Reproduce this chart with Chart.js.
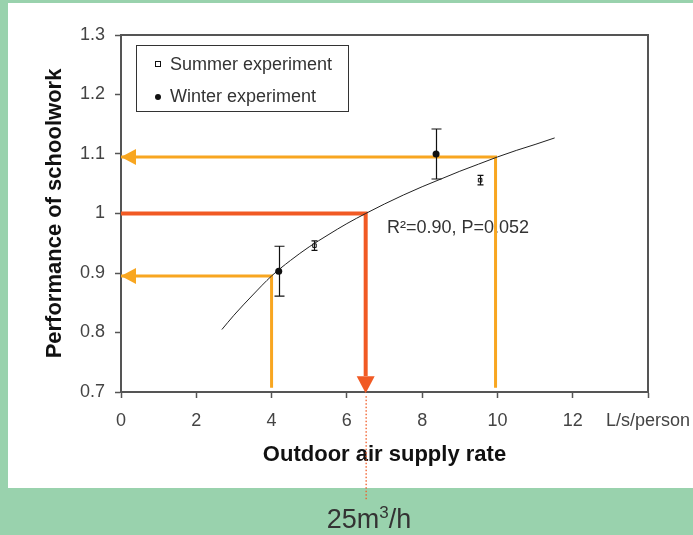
<!DOCTYPE html>
<html lang="en">
<head>
<meta charset="UTF-8">
<title>Performance of schoolwork vs outdoor air supply rate</title>
<script src="https://cdn.jsdelivr.net/npm/chart.js"></script>
<style>
  body { margin: 0; background: #99d2ad; overflow: hidden; }
  canvas { display: block; }
</style>
</head>
<body>
<canvas id="schoolChart" width="693" height="535"></canvas>
<script>
// fitted curve
const fitX = [2.68, 3.0, 3.5, 4.0, 4.5, 5.0, 5.5, 6.0, 6.5, 7.0, 7.5, 8.0, 8.5, 9.0, 9.5, 10.0, 10.5, 11.0, 11.52];
const fitY = [0.805, 0.829, 0.863, 0.895, 0.921, 0.944, 0.964, 0.983, 1.000, 1.016, 1.031, 1.045, 1.058, 1.071, 1.083, 1.095, 1.106, 1.116, 1.127];

// experiments (mean +/- error)
const summerX = [5.14, 9.54];
const summerY = [0.946, 1.056];
const summerErr = [0.008, 0.008];
const winterX = [4.19, 8.37];
const winterY = [0.903, 1.100];
const winterErr = [0.042, 0.042];

// reading lines
const lowX = [4, 4, 0];
const lowY = [0.707, 0.895, 0.895];
const highX = [9.95, 9.95, 0];
const highY = [0.707, 1.095, 1.095];
const redX = [0, 6.5, 6.5];
const redY = [1.0, 1.0, 0.727];
const redTip = 0.698;

const xTickMax = 14;
const xUnitLabel = 'L/s/person';
const summerLabel = 'Summer experiment';
const winterLabel = 'Winter experiment';
const fitLabel = 'R\u00B2=0.90, P=0.052';
const flowParts = ['25m', '3', '/h'];

const FONT = "'Liberation Sans', Arial, sans-serif";
const ORANGE = '#f8a620';
const RED = '#f15a24';
const GREEN = '#99d2ad';

function pts(xs, ys) {
  return xs.map((v, i) => ({ x: v, y: ys[i] }));
}

const framePlugin = {
  id: 'frame',
  beforeDraw(chart) {
    const ctx = chart.ctx;
    ctx.save();
    ctx.fillStyle = GREEN;
    ctx.fillRect(0, 0, chart.width, chart.height);
    ctx.fillStyle = '#fff';
    ctx.fillRect(8, 3, 685, 485);
    ctx.restore();
  },
  beforeDatasetsDraw(chart) {
    const ctx = chart.ctx;
    ctx.save();
    ctx.font = '18px ' + FONT;
    ctx.fillStyle = '#333';
    ctx.textBaseline = 'middle';
    ctx.fillText(fitLabel, 387, 228);
    ctx.restore();
  },
  afterDatasetsDraw(chart) {
    const { ctx, chartArea: a } = chart;
    const x = chart.scales.x, y = chart.scales.y;
    ctx.save();

    // top and right frame
    ctx.strokeStyle = '#555';
    ctx.lineWidth = 2;
    ctx.beginPath();
    ctx.moveTo(a.left, a.top);
    ctx.lineTo(a.right, a.top);
    ctx.lineTo(a.right, a.bottom);
    ctx.stroke();

    // error bars
    ctx.strokeStyle = '#111';
    ctx.lineWidth = 1.2;
    function errBars(xs, ys, es, cap) {
      xs.forEach((v, i) => {
        const px = Math.round(x.getPixelForValue(v)) + 0.5;
        const t = y.getPixelForValue(ys[i] + es[i]);
        const b = y.getPixelForValue(ys[i] - es[i]);
        ctx.beginPath();
        ctx.moveTo(px, t); ctx.lineTo(px, b);
        ctx.moveTo(px - cap, t); ctx.lineTo(px + cap, t);
        ctx.moveTo(px - cap, b); ctx.lineTo(px + cap, b);
        ctx.stroke();
      });
    }
    errBars(winterX, winterY, winterErr, 5);
    errBars(summerX, summerY, summerErr, 3);

    // arrowheads
    function leftHead(vy) {
      const tx = x.getPixelForValue(0), ty = y.getPixelForValue(vy);
      ctx.fillStyle = ORANGE;
      ctx.beginPath();
      ctx.moveTo(tx, ty);
      ctx.lineTo(tx + 15, ty - 8);
      ctx.lineTo(tx + 15, ty + 8);
      ctx.closePath();
      ctx.fill();
    }
    leftHead(lowY[2]);
    leftHead(highY[2]);
    const rx = x.getPixelForValue(redX[2]);
    const rt = y.getPixelForValue(redTip);
    ctx.fillStyle = RED;
    ctx.beginPath();
    ctx.moveTo(rx, rt);
    ctx.lineTo(rx - 9, rt - 17);
    ctx.lineTo(rx + 9, rt - 17);
    ctx.closePath();
    ctx.fill();

    // dotted drop line to the green strip
    for (let py = rt + 3; py <= 498; py += 3.5) {
      ctx.fillRect(Math.round(rx) - 0.5, py, 1.3, 1.5);
    }

    // legend
    ctx.strokeStyle = '#333';
    ctx.lineWidth = 1;
    ctx.strokeRect(136.5, 45.5, 212, 66);
    ctx.fillStyle = '#fff';
    ctx.strokeStyle = '#111';
    ctx.fillRect(155.5, 61.5, 5, 5);
    ctx.strokeRect(155.5, 61.5, 5, 5);
    ctx.fillStyle = '#111';
    ctx.beginPath();
    ctx.arc(158, 97, 3, 0, Math.PI * 2);
    ctx.fill();
    ctx.font = '18px ' + FONT;
    ctx.fillStyle = '#333';
    ctx.textBaseline = 'middle';
    ctx.fillText(summerLabel, 170, 65);
    ctx.fillText(winterLabel, 170, 97);

    // flow rate label in the strip, with raised exponent
    ctx.fillStyle = '#333';
    ctx.textBaseline = 'alphabetic';
    ctx.font = '27px ' + FONT;
    const w0 = ctx.measureText(flowParts[0]).width;
    const w2 = ctx.measureText(flowParts[2]).width;
    ctx.font = '17px ' + FONT;
    const w1 = ctx.measureText(flowParts[1]).width;
    let fx = 369 - (w0 + w1 + w2) / 2;
    const base = 528;
    ctx.font = '27px ' + FONT;
    ctx.fillText(flowParts[0], fx, base);
    fx += w0;
    ctx.font = '17px ' + FONT;
    ctx.fillText(flowParts[1], fx, base - 10);
    fx += w1;
    ctx.font = '27px ' + FONT;
    ctx.fillText(flowParts[2], fx, base);
    ctx.restore();
  }
};

const ctx = document.getElementById('schoolChart').getContext('2d');
const schoolChart = new Chart(ctx, {
  type: 'scatter',
  data: {
    datasets: [
      {
        label: summerLabel,
        data: pts(summerX, summerY),
        pointStyle: 'rect',
        pointRadius: 2.5,
        backgroundColor: '#fff',
        borderColor: '#111',
        borderWidth: 1,
        order: 1
      },
      {
        label: winterLabel,
        data: pts(winterX, winterY),
        pointStyle: 'circle',
        pointRadius: 3.5,
        backgroundColor: '#111',
        borderColor: '#111',
        borderWidth: 0,
        order: 1
      },
      {
        label: 'fit',
        data: pts(fitX, fitY),
        showLine: true,
        pointRadius: 0,
        borderColor: '#222',
        borderWidth: 1,
        cubicInterpolationMode: 'monotone',
        order: 2
      },
      {
        label: 'low',
        data: pts(lowX, lowY),
        showLine: true,
        pointRadius: 0,
        borderColor: ORANGE,
        borderWidth: 3,
        borderJoinStyle: 'miter',
        order: 3
      },
      {
        label: 'high',
        data: pts(highX, highY),
        showLine: true,
        pointRadius: 0,
        borderColor: ORANGE,
        borderWidth: 3,
        borderJoinStyle: 'miter',
        order: 3
      },
      {
        label: 'red',
        data: pts(redX, redY),
        showLine: true,
        pointRadius: 0,
        borderColor: RED,
        borderWidth: 4,
        borderJoinStyle: 'miter',
        order: 3
      }
    ]
  },
  options: {
    responsive: false,
    animation: false,
    devicePixelRatio: 1,
    layout: { padding: { left: 0, top: 35, right: 45, bottom: 0 } },
    plugins: {
      legend: { display: false },
      tooltip: { enabled: false }
    },
    scales: {
      x: {
        type: 'linear',
        min: 0,
        max: xTickMax,
        afterFit: s => { s.height = 143; s.paddingRight = 0; s.paddingLeft = 0; },
        grid: { drawOnChartArea: false, tickLength: 6, color: '#555', tickWidth: 1.5 },
        border: { color: '#555', width: 2 },
        ticks: {
          stepSize: 2,
          padding: 12,
          maxRotation: 0,
          minRotation: 0,
          autoSkip: false,
          color: '#444',
          font: { family: FONT, size: 18 },
          callback: v => v === xTickMax ? xUnitLabel : v
        },
        title: {
          display: true,
          text: 'Outdoor air supply rate',
          color: '#111',
          font: { family: FONT, size: 22, weight: 'bold' },
          padding: { top: 0, bottom: 67 }
        }
      },
      y: {
        min: 0.7,
        max: 1.3,
        afterFit: s => { s.width = 121; },
        grid: { drawOnChartArea: false, tickLength: 6, color: '#555', tickWidth: 1.5 },
        border: { color: '#555', width: 2 },
        ticks: {
          stepSize: 0.1,
          padding: 10,
          color: '#444',
          font: { family: FONT, size: 18 },
          callback: v => Math.round(v * 10) / 10
        },
        title: {
          display: true,
          text: 'Performance of schoolwork',
          color: '#111',
          font: { family: FONT, size: 22, weight: 'bold' },
          padding: { top: 42, bottom: 0 }
        }
      }
    }
  },
  plugins: [framePlugin]
});
</script>
</body>
</html>
